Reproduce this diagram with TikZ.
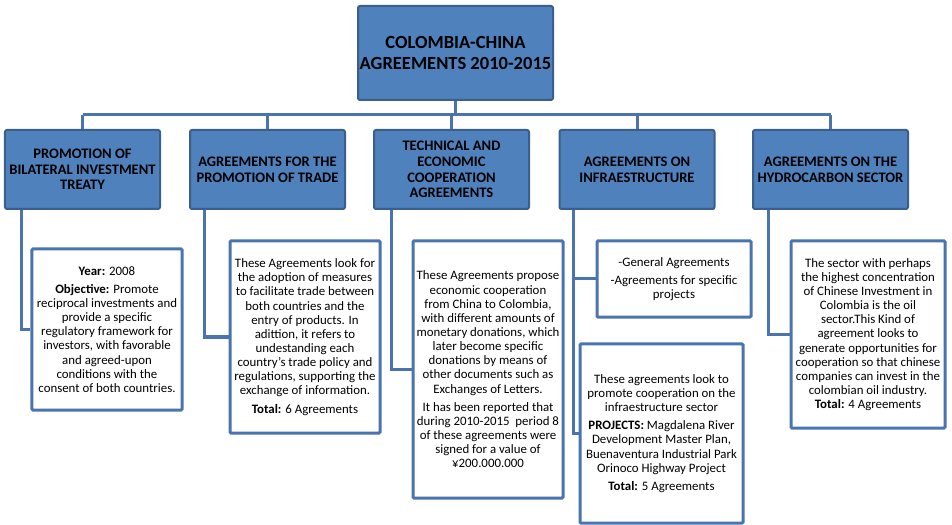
\documentclass[tikz,border=0pt]{standalone}
\usepackage{fontspec}
\setmainfont{Carlito}
\definecolor{hdrblue}{HTML}{4F81BD}
\definecolor{hdrline}{HTML}{3A5F8C}
\definecolor{linkblue}{HTML}{4A74AD}

\begin{document}
\begin{tikzpicture}[x=1bp,y=-1bp,
    hdr/.style={draw=hdrline,line width=2bp,fill=hdrblue,rounded corners=2bp,
        align=center,inner sep=1bp,font=\fontsize{14.6}{15.7}\selectfont\bfseries},
    txtbox/.style={draw=linkblue,line width=3bp,fill=white,rounded corners=1bp,
        align=center,inner sep=1bp,font=\fontsize{12.9}{14.2}\selectfont},
    link/.style={draw=linkblue,line width=3bp}]
    \useasboundingbox (0,0) rectangle (952,525);
    \node[hdr,minimum width=195bp,minimum height=94bp,font=\fontsize{18.6}{21}\selectfont\bfseries]
        (top) at (455.5,53) {COLOMBIA-CHINA\\AGREEMENTS 2010-2015};
    \node[hdr,minimum width=155bp,minimum height=79bp] (h1) at (82.5,169.5)
        {PROMOTION OF\\BILATERAL INVESTMENT\\TREATY};
    \node[hdr,minimum width=155bp,minimum height=79bp] (h2) at (267.5,169.5)
        {AGREEMENTS FOR THE\\PROMOTION OF TRADE};
    \node[hdr,minimum width=155bp,minimum height=79bp] (h3) at (451.5,169.5)
        {TECHNICAL AND\\ECONOMIC\\COOPERATION\\AGREEMENTS};
    \node[hdr,minimum width=155bp,minimum height=79bp] (h4) at (637,169.5)
        {AGREEMENTS ON\\INFRAESTRUCTURE};
    \node[hdr,minimum width=155bp,minimum height=79bp] (h5) at (830.5,169.5)
        {AGREEMENTS ON THE\\HYDROCARBON SECTOR};
    \coordinate (bus) at (0,115);
    \draw[link] (top.south) -- (top.south |- bus);
    \draw[link] (h1.north |- bus) -- (h5.north |- bus);
    \foreach \h in {h1,h2,h3,h4,h5}
        \draw[link] (\h.north |- bus) -- (\h.north);
    \node[txtbox,minimum width=150bp,minimum height=161bp] (b1) at (107,329.5)
        {\textbf{Year:} 2008\\[4pt]
        \textbf{Objective:} Promote\\reciprocal investments and\\provide a specific\\
        regulatory framework for\\investors, with favorable\\and agreed-upon\\
        conditions with the\\consent of both countries.};
    \node[txtbox,minimum width=150bp,minimum height=192bp] (b2) at (305,337)
        {These Agreements look for\\the adoption of measures\\to facilitate trade between\\
        both countries and the\\entry of products. In\\adittion, it refers to\\
        undestanding each\\country's trade policy and\\regulations, supporting the\\
        exchange of information.\\[4pt]\textbf{Total:} 6 Agreements};
    \node[txtbox,minimum width=150bp,minimum height=257bp] (b3) at (488,369.5)
        {These Agreements propose\\economic cooperation\\from China to Colombia,\\
        with different amounts of\\monetary donations, which\\later become specific\\
        donations by means of\\other documents such as\\Exchanges of Letters.\\[4pt]
        It has been reported that\\during 2010-2015\ \ period 8\\of these agreements were\\
        signed for a value of\\¥200.000.000};
    \node[txtbox,minimum width=154bp,minimum height=76bp] (b4a) at (674,279)
        {-General Agreements\\[4pt]-Agreements for specific\\projects};
    \node[txtbox,minimum width=163bp,minimum height=179bp] (b4b) at (661.5,433.5)
        {These agreements look to\\promote cooperation on the\\infraestructure sector\\[4pt]
        \textbf{PROJECTS:} Magdalena River\\Development Master Plan,\\
        Buenaventura Industrial Park\\Orinoco Highway Project\\[4pt]
        \textbf{Total:} 5 Agreements};
    \node[txtbox,minimum width=154bp,minimum height=187bp] (b5) at (868,334.5)
        {The sector with perhaps\\the highest concentration\\of Chinese Investment in\\
        Colombia is the oil\\sector.This Kind of\\agreement looks to\\
        generate opportunities for\\cooperation so that chinese\\companies can invest in the\\
        colombian oil industry.\\\textbf{Total:} 4 Agreements};
    \draw[link] ([xshift=18bp]h1.south west) |- (b1.west);
    \draw[link] ([xshift=15bp]h2.south west) |- (b2.west);
    \draw[link] ([xshift=18bp]h3.south west) |- (b3.west);
    \draw[link] ([xshift=15bp]h4.south west) |- (b4b.west);
    \draw[link] ([xshift=15bp]h4.south west |- b4a.west) -- (b4a.west);
    \draw[link] ([xshift=16bp]h5.south west) |- (b5.west);
\end{tikzpicture}
\end{document}
